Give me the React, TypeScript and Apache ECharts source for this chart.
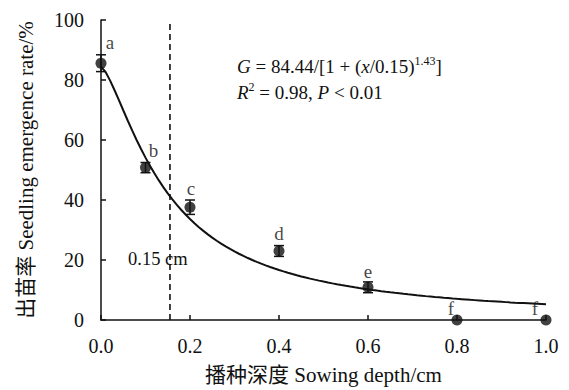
import React, { useEffect, useRef } from "react";
import * as echarts from "echarts";

const depths = [0.0, 0.1, 0.2, 0.4, 0.6, 0.8, 1.0];
const emergence = [85.6, 50.8, 37.6, 23.0, 10.9, 0, 0];
const errors = [2.8, 1.7, 2.4, 1.8, 1.8, 0, 0];
const letters = ["a", "b", "c", "d", "e", "f", "f"];
// Fitted model shown on the chart: G = A / [1 + (x / X0)^B]
const fitA = 84.44;
const fitX0 = 0.15;
const fitB = 1.43;
const thresholdDepth = 0.155;

const FONT = "Liberation Serif, Noto Sans CJK SC, serif";

export default function App() {
  const ref = useRef<HTMLDivElement>(null);
  useEffect(() => {
    if (!ref.current) return;
    const chart = echarts.init(ref.current, null, { renderer: "svg" });
    const curve: number[][] = [];
    for (let i = 0; i <= 100; i++) {
      const x = i / 100;
      curve.push([x, fitA / (1 + Math.pow(x / fitX0, fitB))]);
    }
    const labelOffsets: number[][] = [
      [9, -21],
      [8, -17],
      [1, -19],
      [0, -18],
      [0, -16],
      [-6, -12],
      [-11, -12],
    ];
    const ink = "#111";
    chart.setOption({
      animation: false,
      textStyle: { fontFamily: FONT },
      grid: { left: 101, right: 23, top: 20, bottom: 70 },
      xAxis: {
        type: "value",
        min: 0,
        max: 1,
        interval: 0.2,
        name: "播种深度 Sowing depth/cm",
        nameLocation: "middle",
        nameGap: 44,
        nameTextStyle: { fontFamily: FONT, fontSize: 21, color: ink },
        axisLine: { lineStyle: { color: ink, width: 1.5 } },
        axisTick: { inside: true, length: 5, lineStyle: { color: ink, width: 1.5 } },
        axisLabel: {
          fontFamily: FONT,
          fontSize: 20,
          color: ink,
          margin: 16,
          formatter: (v: number) => v.toFixed(1),
        },
        splitLine: { show: false },
      },
      yAxis: {
        type: "value",
        min: 0,
        max: 100,
        interval: 20,
        name: "出苗率 Seedling emergence rate/%",
        nameLocation: "middle",
        nameGap: 65,
        nameTextStyle: { fontFamily: FONT, fontSize: 21, color: ink },
        axisLine: { show: true, lineStyle: { color: ink, width: 1.5 } },
        axisTick: { show: true, inside: true, length: 5, lineStyle: { color: ink, width: 1.5 } },
        axisLabel: { fontFamily: FONT, fontSize: 20, color: ink, margin: 17 },
        splitLine: { show: false },
      },
      series: [
        {
          type: "line",
          data: curve,
          showSymbol: false,
          lineStyle: { color: ink, width: 2 },
          z: 3,
        },
        {
          type: "line",
          data: [
            [thresholdDepth, 0],
            [thresholdDepth, 100],
          ],
          showSymbol: false,
          lineStyle: { color: ink, width: 1.6, type: [6, 4] },
          z: 2,
        },
        {
          type: "custom",
          data: depths.map((d, i) => [d, emergence[i], errors[i]]),
          renderItem: (params: any, api: any) => {
            const x = api.value(0);
            const y = api.value(1);
            const e = api.value(2);
            if (!e) return { type: "group", children: [] };
            const top = api.coord([x, y + e]);
            const bot = api.coord([x, y - e]);
            const w = 5;
            const style = { stroke: ink, lineWidth: 1.5 };
            return {
              type: "group",
              children: [
                { type: "line", shape: { x1: top[0], y1: top[1], x2: bot[0], y2: bot[1] }, style },
                { type: "line", shape: { x1: top[0] - w, y1: top[1], x2: top[0] + w, y2: top[1] }, style },
                { type: "line", shape: { x1: bot[0] - w, y1: bot[1], x2: bot[0] + w, y2: bot[1] }, style },
              ],
            };
          },
          z: 4,
        },
        {
          type: "scatter",
          symbol: "circle",
          symbolSize: 11,
          itemStyle: { color: ink },
          data: depths.map((d, i) => ({
            value: [d, emergence[i]],
            label: {
              show: true,
              formatter: letters[i],
              position: "inside",
              offset: labelOffsets[i],
              fontFamily: FONT,
              fontSize: 19,
              color: ink,
              textBorderWidth: 0,
            },
          })),
          z: 5,
        },
      ],
      graphic: [
        {
          type: "text",
          left: 128,
          top: 250,
          style: { text: "0.15 cm", fontFamily: FONT, fontSize: 18.5, fill: ink },
          z: 10,
        },
        {
          type: "text",
          left: 237,
          top: 55,
          style: {
            text: "{i|G} = 84.44/[1 + ({i|x}/0.15){s|1.43}]",
            fontFamily: FONT,
            fontSize: 19,
            fill: ink,
            rich: {
              i: { fontFamily: FONT, fontSize: 19, fontStyle: "italic", fill: ink },
              s: { fontFamily: FONT, fontSize: 12, fill: ink, verticalAlign: "top", padding: [0, 0, 11, 0] },
            },
          },
          z: 10,
        },
        {
          type: "text",
          left: 237,
          top: 81,
          style: {
            text: "{i|R}{s|2} = 0.98, {i|P} < 0.01",
            fontFamily: FONT,
            fontSize: 19,
            fill: ink,
            rich: {
              i: { fontFamily: FONT, fontSize: 19, fontStyle: "italic", fill: ink },
              s: { fontFamily: FONT, fontSize: 12, fill: ink, verticalAlign: "top", padding: [0, 0, 11, 0] },
            },
          },
          z: 10,
        },
      ],
    });
    return () => chart.dispose();
  }, []);
  return <div ref={ref} style={{ width: 569, height: 390, position: "absolute", left: 0, top: 0 }} />;
}
